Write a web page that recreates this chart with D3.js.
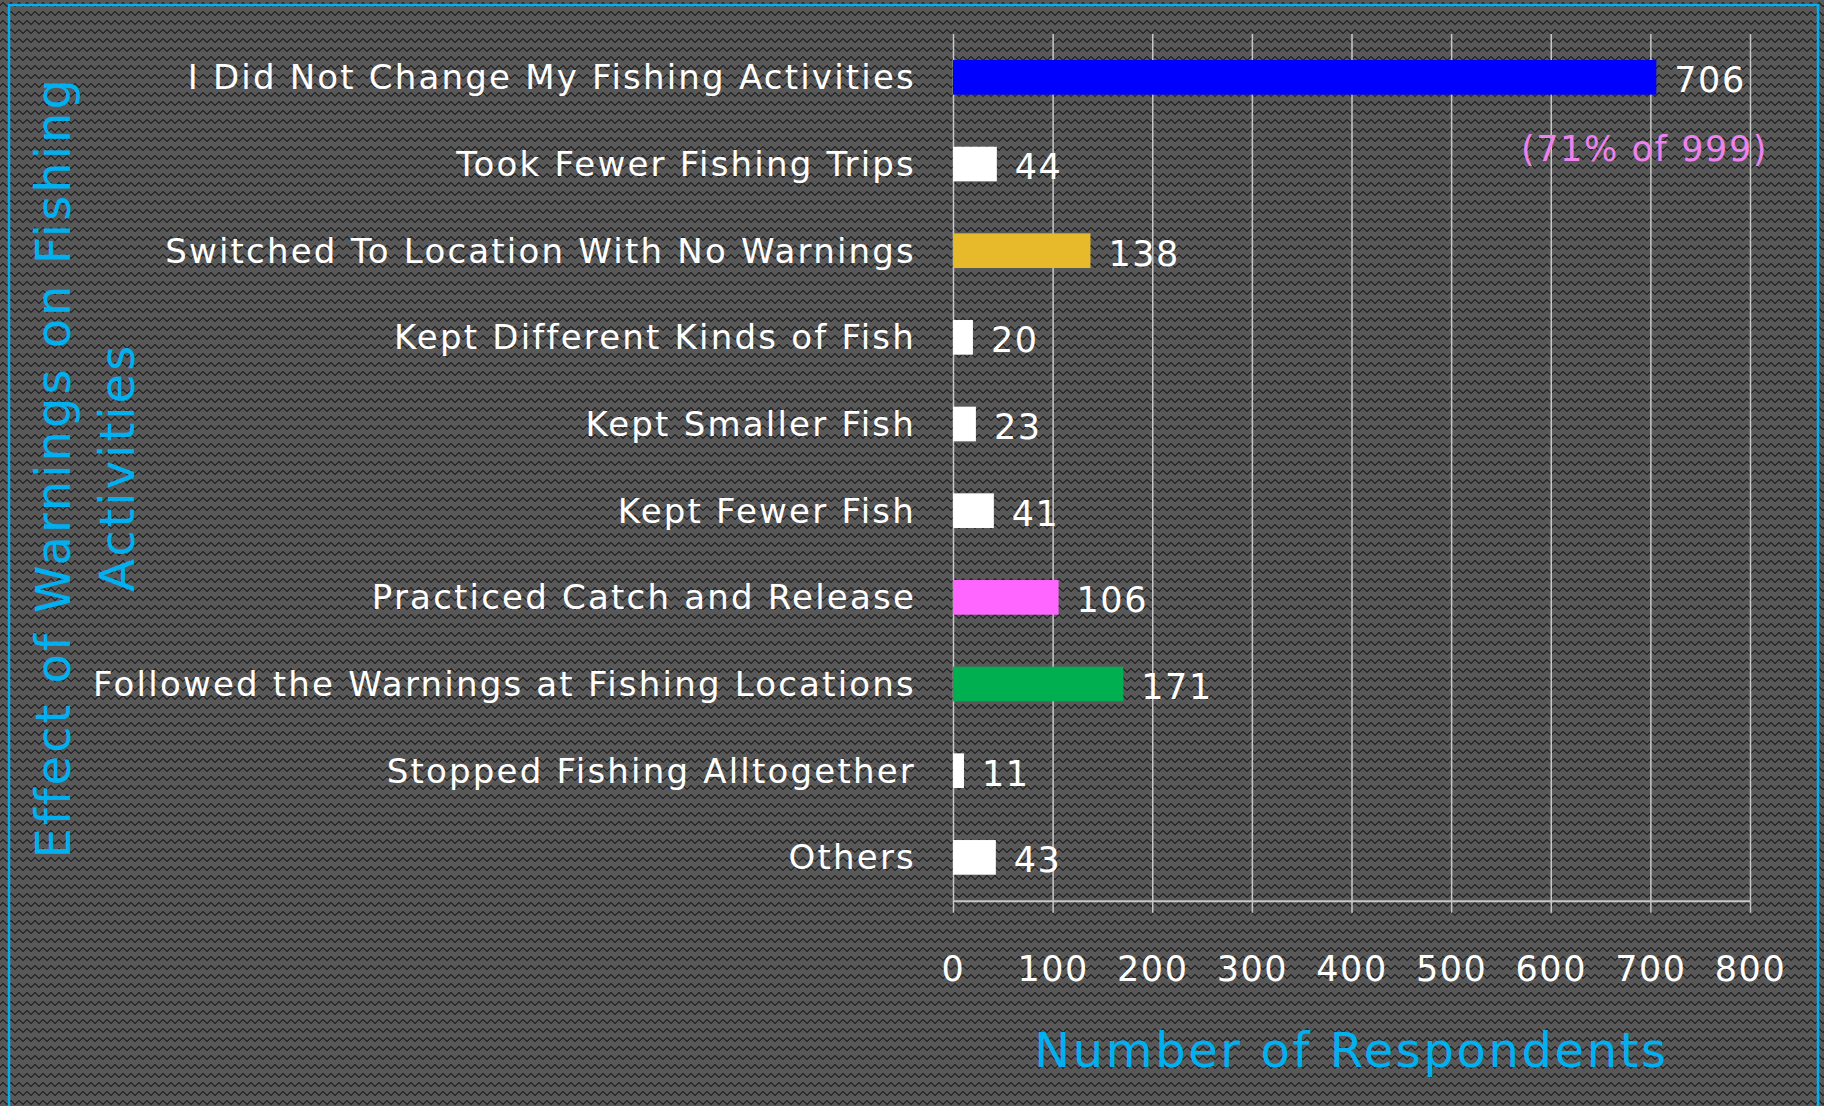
<!DOCTYPE html>
<html>
<head>
<meta charset="utf-8">
<script src="https://cdn.jsdelivr.net/npm/d3@7"></script>
<style>
  html, body { margin: 0; padding: 0; background: #555555; overflow: hidden; }
  svg { display: block; font-family: "DejaVu Sans", sans-serif; }
</style>
</head>
<body>
<div id="chart"></div>
<script>
// data
var categories = [
  "I Did Not Change My Fishing Activities",
  "Took Fewer Fishing Trips",
  "Switched To Location With No Warnings",
  "Kept Different Kinds of Fish",
  "Kept Smaller Fish",
  "Kept Fewer Fish",
  "Practiced Catch and Release",
  "Followed the Warnings at Fishing Locations",
  "Stopped Fishing Alltogether",
  "Others"
];
var respondents = [706, 44, 138, 20, 23, 41, 106, 171, 11, 43];
var barColors = ["#0000FF", "#FFFFFF", "#E6BA2A", "#FFFFFF", "#FFFFFF", "#FFFFFF", "#FF66FF", "#00B050", "#FFFFFF", "#FFFFFF"];
var xTicks = [0, 100, 200, 300, 400, 500, 600, 700, 800];
var note = "(71% of 999)";

var W = 1824, H = 1106;
var margin = { top: 34, right: 74, bottom: 205.3, left: 953 };
var width = W - margin.left - margin.right;
var height = H - margin.top - margin.bottom;

var svgRoot = d3.select("#chart").append("svg")
  .attr("width", W)
  .attr("height", H);

// zigzag background texture (pixel stair-step wave)
var pat = svgRoot.append("defs").append("pattern")
  .attr("id", "zigzag")
  .attr("patternUnits", "userSpaceOnUse")
  .attr("width", 8)
  .attr("height", 9);
pat.append("rect").attr("width", 8).attr("height", 9).attr("fill", "#585858");
var waveRows = [5, 4, 3, 3, 4, 5, 6, 6];
pat.selectAll(".px")
  .data(waveRows)
  .enter()
  .append("rect")
  .attr("x", function (d, i) { return i; })
  .attr("y", function (d) { return d - 1; })
  .attr("width", 1)
  .attr("height", 2)
  .attr("fill", "#2b2b2b")
  .attr("shape-rendering", "crispEdges");

svgRoot.append("rect").attr("width", W).attr("height", H).attr("fill", "url(#zigzag)");

// cyan frame
svgRoot.append("rect")
  .attr("x", 9).attr("y", 5)
  .attr("width", 1809).attr("height", 1300)
  .attr("fill", "none")
  .attr("stroke", "#00B0F0")
  .attr("stroke-width", 2.5);

var svg = svgRoot.append("g")
  .attr("transform", "translate(" + margin.left + "," + margin.top + ")");

var x = d3.scaleLinear().domain([0, 800]).range([0, width]);
var y = d3.scaleBand().domain(categories).range([0, height])
  .paddingInner(0.6).paddingOuter(0.3);

// vertical gridlines
svg.append("g")
  .attr("class", "grid")
  .attr("transform", "translate(0," + height + ")")
  .call(d3.axisBottom(x).tickValues(xTicks).tickSize(-height).tickFormat(""))
  .call(function (g) {
    g.select(".domain").remove();
    g.selectAll("line").attr("stroke", "#C8C8C8").attr("stroke-width", 1.5);
  });

// x axis with ticks below
svg.append("g")
  .attr("transform", "translate(0," + height + ")")
  .call(d3.axisBottom(x).tickValues(xTicks).tickSizeInner(12).tickSizeOuter(0))
  .call(function (g) {
    g.select(".domain").attr("stroke", "#C8C8C8").attr("stroke-width", 2);
    g.selectAll("line").attr("stroke", "#C8C8C8").attr("stroke-width", 1.5);
    g.selectAll("text")
      .attr("y", 80)
      .attr("dy", null)
      .attr("fill", "#FFFFFF")
      .style("font-family", "DejaVu Sans, sans-serif")
      .style("font-size", "35px")
      .style("letter-spacing", "1.5px");
  });

// bars
svg.selectAll(".bar")
  .data(respondents)
  .enter()
  .append("rect")
  .attr("class", "bar")
  .attr("x", x(0))
  .attr("y", function (d, i) { return y(categories[i]); })
  .attr("width", function (d) { return x(d) - x(0); })
  .attr("height", y.bandwidth())
  .attr("fill", function (d, i) { return barColors[i]; });

// value labels
svg.selectAll(".val")
  .data(respondents)
  .enter()
  .append("text")
  .attr("class", "val")
  .attr("x", function (d) { return x(d) + 18; })
  .attr("y", function (d, i) { return y(categories[i]) + y.bandwidth() / 2 + 15; })
  .attr("fill", "#FFFFFF")
  .style("font-size", "35px")
  .style("letter-spacing", "1.5px")
  .text(function (d) { return d; });

// category labels
svg.selectAll(".cat")
  .data(categories)
  .enter()
  .append("text")
  .attr("class", "cat")
  .attr("x", -37)
  .attr("y", function (d) { return y(d) + y.bandwidth() / 2 + 12; })
  .attr("text-anchor", "end")
  .attr("fill", "#FFFFFF")
  .style("font-size", "34px")
  .style("letter-spacing", "2.2px")
  .text(function (d) { return d; });

// note below top bar
svg.append("text")
  .attr("x", x(800) + 18)
  .attr("y", y(categories[0]) + y.bandwidth() / 2 + 84)
  .attr("text-anchor", "end")
  .attr("fill", "#EE82EE")
  .style("font-size", "35px")
  .style("letter-spacing", "1.6px")
  .text(note);

// axis titles
svg.append("text")
  .attr("x", width / 2)
  .attr("y", height + 166)
  .attr("text-anchor", "middle")
  .attr("fill", "#00B0F0")
  .style("font-size", "48px")
  .style("letter-spacing", "2.6px")
  .text("Number of Respondents");

var yTitle = svgRoot.append("text")
  .attr("transform", "translate(0," + (margin.top + height / 2) + ") rotate(-90)")
  .attr("text-anchor", "middle")
  .attr("fill", "#00B0F0")
  .style("font-size", "48px")
  .style("letter-spacing", "3px");
yTitle.append("tspan").attr("x", 0).attr("y", 70).text("Effect of Warnings on Fishing");
yTitle.append("tspan").attr("x", 0).attr("y", 134).text("Activities");
</script>
</body>
</html>
